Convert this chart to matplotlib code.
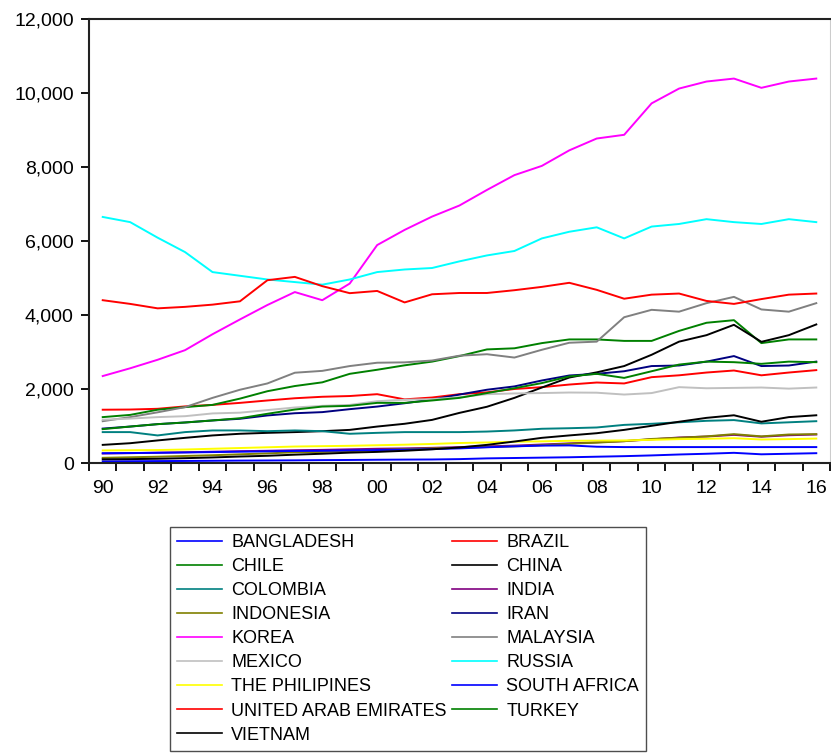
import matplotlib
matplotlib.use('Agg')
import matplotlib.pyplot as plt
from matplotlib.ticker import FixedLocator, FuncFormatter

years = list(range(1990, 2017))

bangladesh = [45, 48, 52, 55, 60, 65, 68, 72, 78, 82, 88, 92, 95, 105, 125, 135,
              145, 155, 170, 185, 205, 230, 250, 275, 235, 250, 265]
brazil = [1440, 1445, 1465, 1530, 1570, 1625, 1690, 1750, 1790, 1810, 1860, 1720,
          1770, 1860, 1910, 2000, 2050, 2120, 2175, 2150, 2320, 2370, 2445, 2500,
          2370, 2445, 2510]
chile = [1240, 1300, 1440, 1510, 1570, 1740, 1940, 2080, 2180, 2410, 2520, 2640,
         2740, 2890, 3070, 3100, 3240, 3340, 3340, 3300, 3300, 3570, 3790, 3860,
         3240, 3340, 3340]
china = [490, 535, 610, 680, 745, 790, 815, 835, 860, 895, 985, 1060, 1165, 1355,
         1520, 1760, 2040, 2310, 2450, 2620, 2925, 3280, 3455, 3735, 3275, 3455, 3745]
colombia = [835, 835, 745, 835, 880, 880, 860, 880, 860, 790, 815, 835, 835, 835,
            850, 880, 925, 940, 960, 1030, 1060, 1100, 1140, 1160, 1070, 1100, 1130]
india = [255, 265, 280, 290, 305, 320, 330, 345, 355, 370, 385, 395, 410, 430, 450,
         470, 500, 530, 560, 590, 640, 690, 715, 760, 710, 750, 770]
indonesia = [140, 155, 170, 190, 210, 235, 260, 290, 300, 320, 350, 375, 395, 410,
             430, 450, 480, 520, 550, 590, 650, 680, 720, 780, 720, 770, 780]
iran = [930, 985, 1050, 1095, 1150, 1195, 1285, 1345, 1375, 1455, 1525, 1615, 1715,
        1850, 1980, 2070, 2230, 2365, 2410, 2480, 2620, 2635, 2740, 2890, 2620, 2635,
        2740]
korea = [2350, 2560, 2790, 3050, 3480, 3880, 4270, 4620, 4400, 4850, 5890, 6300,
         6660, 6960, 7380, 7780, 8030, 8450, 8770, 8870, 9720, 10120, 10310, 10390,
         10140, 10310, 10390]
malaysia = [1130, 1240, 1370, 1510, 1760, 1980, 2150, 2440, 2490, 2620, 2710, 2720,
            2770, 2900, 2940, 2850, 3060, 3250, 3280, 3940, 4140, 4090, 4320, 4490,
            4150, 4090, 4320]
mexico = [1170, 1200, 1240, 1265, 1340, 1360, 1430, 1500, 1545, 1570, 1670, 1710,
          1725, 1780, 1860, 1880, 1890, 1905, 1900, 1850, 1890, 2050, 2020, 2030,
          2040, 2010, 2040]
russia = [6650, 6510, 6090, 5700, 5160, 5060, 4960, 4890, 4820, 4960, 5160, 5230,
          5270, 5450, 5610, 5730, 6070, 6250, 6370, 6070, 6390, 6460, 6590, 6510,
          6460, 6590, 6510]
philippines = [340, 345, 350, 365, 385, 405, 425, 445, 455, 465, 480, 495, 515, 540,
               555, 575, 585, 600, 605, 610, 625, 645, 655, 670, 635, 645, 660]
south_africa = [265, 270, 275, 285, 295, 305, 315, 325, 330, 340, 350, 360, 375, 395,
                425, 450, 470, 475, 440, 430, 430, 430, 430, 430, 430, 430, 430]
uae = [4400, 4300, 4180, 4220, 4280, 4370, 4940, 5030, 4780, 4590, 4650, 4340, 4560,
       4595, 4595, 4670, 4760, 4870, 4680, 4440, 4550, 4580, 4380, 4300, 4430, 4550,
       4580]
turkey = [915, 985, 1050, 1095, 1150, 1210, 1330, 1445, 1525, 1545, 1625, 1625, 1690,
          1760, 1890, 2020, 2160, 2340, 2410, 2300, 2480, 2660, 2740, 2725, 2680, 2740,
          2725]
vietnam = [100, 105, 115, 130, 150, 175, 195, 225, 250, 280, 300, 330, 370, 420, 490,
           580, 680, 745, 805, 895, 1005, 1115, 1220, 1290, 1115, 1240, 1290]

labels = ['BANGLADESH', 'BRAZIL', 'CHILE', 'CHINA', 'COLOMBIA', 'INDIA',
          'INDONESIA', 'IRAN', 'KOREA', 'MALAYSIA', 'MEXICO', 'RUSSIA',
          'THE PHILIPINES', 'SOUTH AFRICA', 'UNITED ARAB EMIRATES', 'TURKEY',
          'VIETNAM']
series = [bangladesh, brazil, chile, china, colombia, india, indonesia, iran,
          korea, malaysia, mexico, russia, philippines, south_africa, uae, turkey,
          vietnam]
colors = ['#0000FF', '#FF0000', '#008000', '#000000', '#008080', '#800080',
          '#808000', '#000080', '#FF00FF', '#808080', '#C0C0C0', '#00FFFF',
          '#FFFF00', '#0000FF', '#FF0000', '#008000', '#000000']

plt.rcParams['font.family'] = ['Liberation Sans', 'DejaVu Sans']

fig = plt.figure(figsize=(8.31, 7.53), dpi=100)
ax = fig.add_axes([89 / 831, 1 - 463 / 753, 741 / 831, 444 / 753])

handles = []
for vals, lab, col in zip(series, labels, colors):
    h, = ax.plot(years, vals, color=col, lw=1.4, label=lab)
    handles.append(h)

ax.set_xlim(1989.5, 2016.5)
ax.set_ylim(0, 12000)

# year labels sit between the ticks, like EViews
ax.xaxis.set_major_locator(FixedLocator(list(range(1990, 2017, 2))))
ax.xaxis.set_major_formatter(FuncFormatter(lambda v, p: '%02d' % (int(round(v)) % 100)))
ax.xaxis.set_minor_locator(FixedLocator([y + 0.5 for y in range(1989, 2017)]))
ax.tick_params(axis='x', which='major', length=0, pad=12, labelsize=14)
ax.tick_params(axis='x', which='minor', length=6, width=1.3, direction='out')

ax.yaxis.set_major_locator(FixedLocator(list(range(0, 12001, 2000))))
ax.yaxis.set_major_formatter(FuncFormatter(lambda v, p: '{:,.0f}'.format(v)))
ax.tick_params(axis='y', length=6, width=1.3, direction='out', pad=5, labelsize=14)

for side in ['left', 'bottom', 'top']:
    ax.spines[side].set_linewidth(1.5)
    ax.spines[side].set_color('#222222')
ax.spines['right'].set_linewidth(0.8)
ax.spines['right'].set_color('#cccccc')

# row-wise order in a two column legend
order = list(range(0, 17, 2)) + list(range(1, 17, 2))
leg = fig.legend([handles[i] for i in order], [labels[i] for i in order],
                 loc='upper left', bbox_to_anchor=(170 / 831, 1 - 527 / 753),
                 ncol=2, fontsize=13, frameon=True, fancybox=False,
                 handlelength=2.5, handletextpad=0.5, columnspacing=0.3,
                 labelspacing=0.39, borderpad=0.4, borderaxespad=0)
leg.get_frame().set_edgecolor('#222222')
leg.get_frame().set_linewidth(1.0)
for l in leg.get_lines():
    l.set_linewidth(1.2)

fig.savefig('out.png', dpi=100)
